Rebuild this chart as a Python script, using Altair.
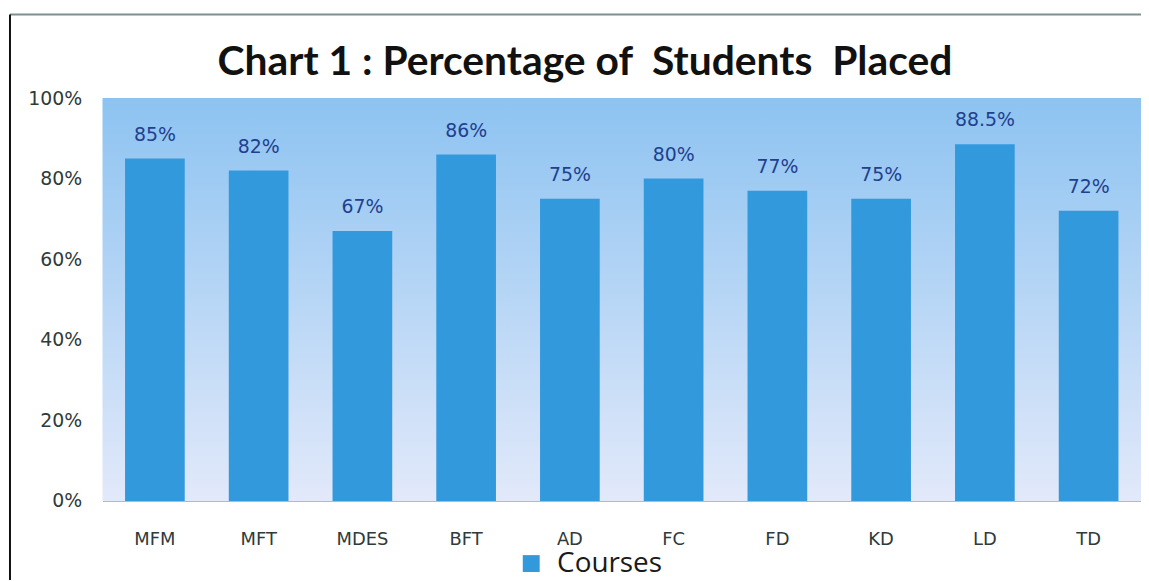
import altair as alt
import pandas as pd

courses = ["MFM", "MFT", "MDES", "BFT", "AD", "FC", "FD", "KD", "LD", "TD"]
placed = [85, 82, 67, 86, 75, 80, 77, 75, 88.5, 72]
labels = ["85%", "82%", "67%", "86%", "75%", "80%", "77%", "75%", "88.5%", "72%"]
series = "Courses"
y_ticks = [0, 20, 40, 60, 80, 100]
title_text = "Chart 1 : Percentage of\u00a0 Students\u00a0 Placed"

df = pd.DataFrame({"course": courses, "value": placed, "label": labels, "series": series})

W, H = 1044, 405

xenc = alt.X("course:N", sort=courses, title=None,
             scale=alt.Scale(paddingInner=0.43, paddingOuter=0.22),
             axis=alt.Axis(labelAngle=0, ticks=False, domain=True, domainColor="#b0b0b0",
                           labelFont="DejaVu Sans", labelFontSize=18, labelColor="#2f3a3a",
                           labelPadding=30))
yscale = alt.Scale(domain=[0, 100])

bg = alt.Chart(pd.DataFrame({"a": [0]})).mark_rect(
    color=alt.LinearGradient(gradient="linear", x1=0, x2=0, y1=0, y2=1,
                             stops=[alt.GradientStop(offset=0, color="#8dc3f1"),
                                    alt.GradientStop(offset=1, color="#e2e9fa")])
).encode(x=alt.value(0), x2=alt.value(W), y=alt.datum(100, scale=yscale), y2=alt.datum(0))

bars = alt.Chart(df).mark_bar(size=60).encode(
    x=xenc,
    y=alt.Y("value:Q", scale=yscale, title=None,
            axis=alt.Axis(values=y_ticks, labelExpr="datum.value + '%'", ticks=False, grid=False,
                          domain=False, labelFont="DejaVu Sans", labelFontSize=19,
                          labelColor="#2f3a3a", labelPadding=21)),
    color=alt.Color("series:N", scale=alt.Scale(range=["#3399dd"]), title=None,
                    legend=alt.Legend(orient="none", legendX=417, legendY=H + 49,
                                      symbolType="square", symbolSize=289,
                                      symbolStrokeWidth=0, labelFont="Open Sans",
                                      labelFontSize=28, labelColor="#1a1a1a",
                                      labelOffset=12, padding=0))
)

text = alt.Chart(df).mark_text(baseline="bottom", dy=-14, font="DejaVu Sans", fontSize=19,
                               color="#1f3f8f").encode(
    x=alt.X("course:N", sort=courses), y=alt.Y("value:Q", scale=yscale), text="label:N")

frame_top = alt.Chart(pd.DataFrame({"a": [0]})).mark_rule(color="#7f8f8f", strokeWidth=2).encode(
    x=alt.value(-93), x2=alt.value(W + 10), y=alt.value(-84))
frame_left = alt.Chart(pd.DataFrame({"a": [0]})).mark_rule(color="#111111", strokeWidth=2).encode(
    x=alt.value(-93), y=alt.value(-84), y2=alt.value(H + 90))

chart = alt.layer(bg, bars, text, frame_top, frame_left).properties(
    width=W, height=H,
    autosize=alt.AutoSizeParams(type="none"),
    padding={"left": 95, "top": 89, "right": 0, "bottom": 78},
    title=alt.TitleParams(title_text, font="Lato",
                          fontSize=41, fontWeight="bold", color="#111111",
                          anchor="middle", dx=-37, offset=-71)
).configure_view(stroke=None).configure_axis(labelFontWeight="normal")

chart.save("out.html", embed_options={"renderer": "svg", "actions": False})
